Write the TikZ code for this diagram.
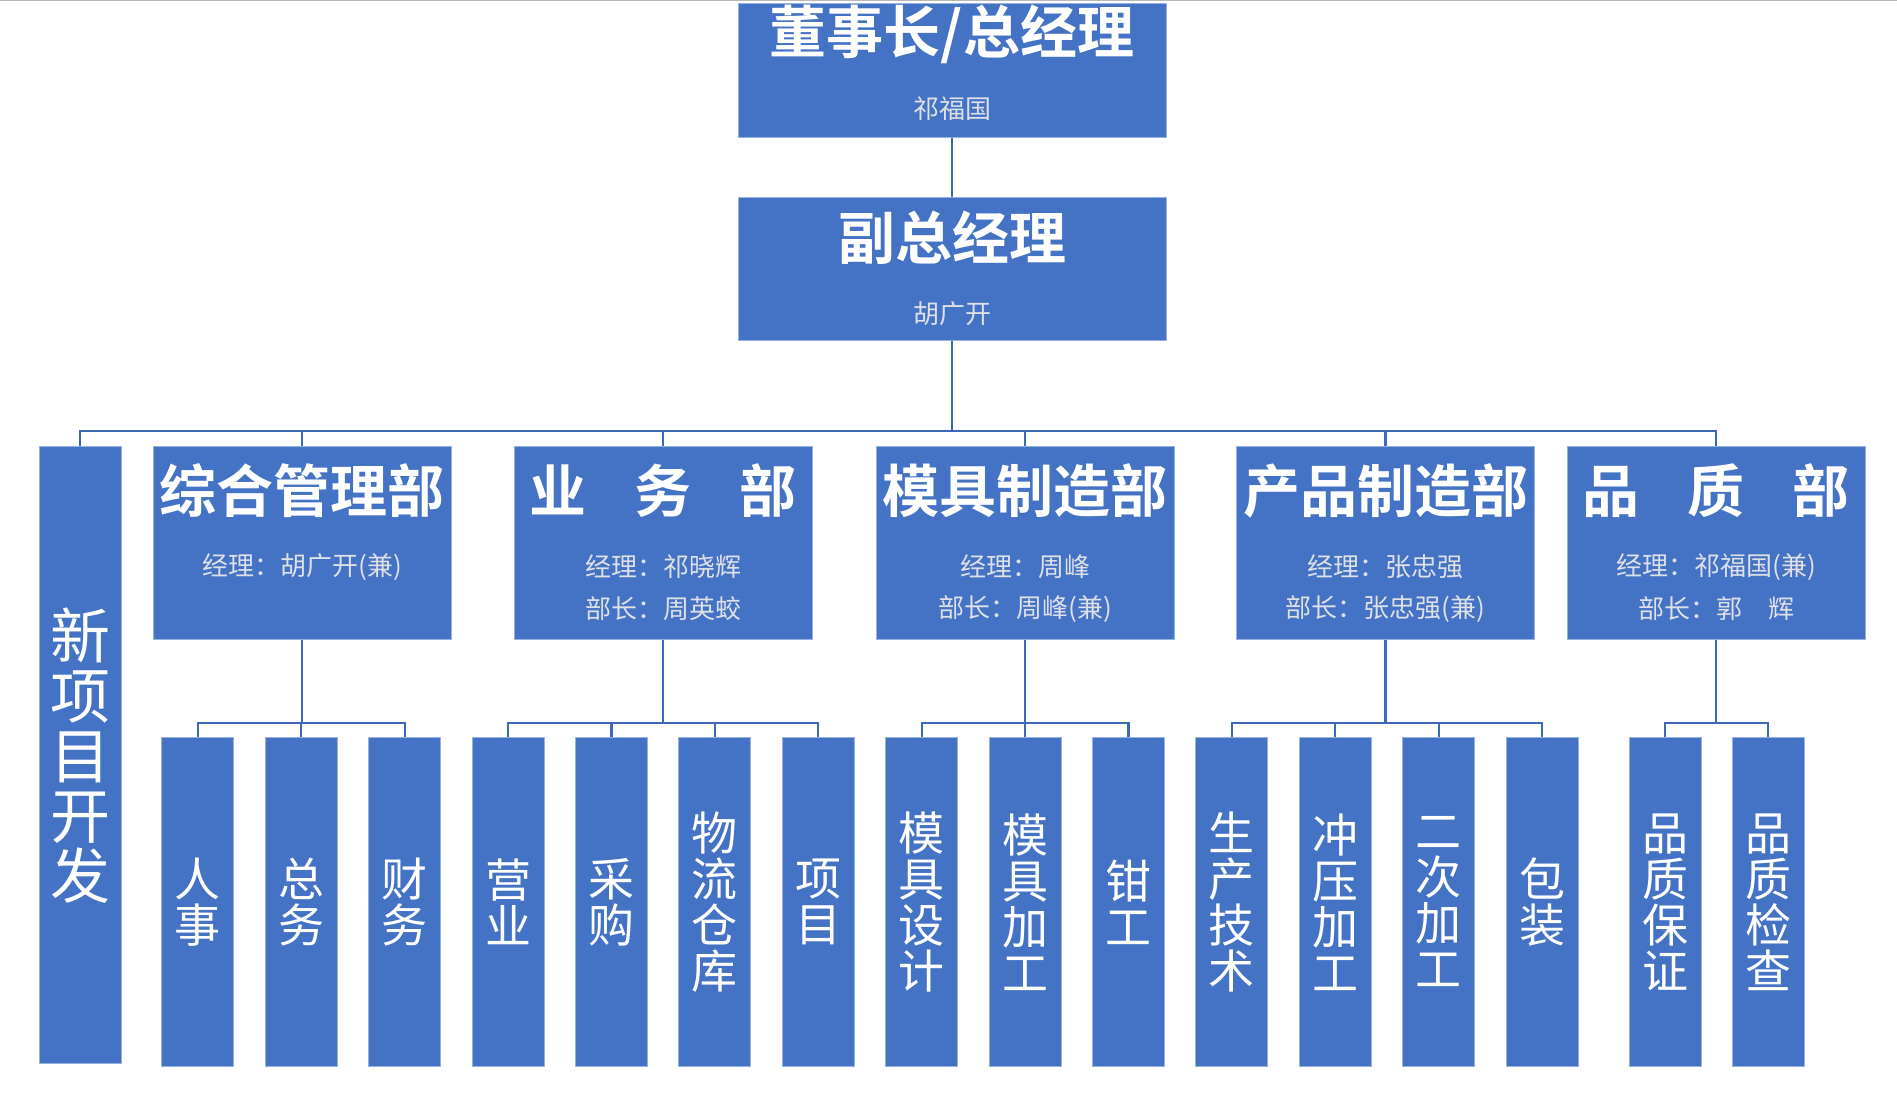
\documentclass[tikz,border=0pt]{standalone}
\usepackage{fontspec}
\newfontfamily\cjk{Noto Sans CJK SC}[BoldFont={Noto Sans CJK SC Bold}]
\definecolor{boxblue}{RGB}{68,114,196}
\definecolor{edgeblue}{RGB}{150,178,225}
\definecolor{lineblue}{RGB}{62,104,184}
\definecolor{subgray}{RGB}{222,224,232}
\tikzset{
  box/.style={rectangle, fill=boxblue, draw=edgeblue, line width=0.5pt, inner sep=0pt},
  depbox/.style={box, minimum width=149pt, minimum height=96.5pt},
  kidbox/.style={box, minimum width=36pt, minimum height=164.5pt},
  ttl/.style={font=\cjk\bfseries\fontsize{28.5}{30}\selectfont, text=white, inner sep=0pt},
  sub/.style={font=\cjk\fontsize{13}{15}\selectfont, text=subgray, inner sep=0pt},
  vert/.style={font=\cjk\fontsize{23}{23}\selectfont, text=white, align=center, inner sep=0pt},
  link/.style={draw=lineblue, line width=1.1pt},
}
\begin{document}
\begin{tikzpicture}[x=0.5pt, y=-0.5pt]
\useasboundingbox (0,0) rectangle (1897,1099);
\fill[white] (0,0) rectangle (1897,1099);
\draw[black!28, line width=1pt] (0,0) -- (1897,0);

% top level
\node[box, minimum width=214pt, minimum height=67pt] (top) at (952,70) {};
\node[ttl] (topt) at (952,34) {董事长/总经理};
\node[sub] (tops) at (952,109) {祁福国};
\node[box, minimum width=214pt, minimum height=71.5pt] (vp) at (952,268.5) {};
\node[ttl] (vpt) at (952,238) {副总经理};
\node[sub] (vps) at (952,314) {胡广开};
\draw[link] (top) -- (vp);

% bus
\coordinate (bus) at (952,431);
\draw[link] (vp) -- (bus);

% new project
\node[box, minimum width=41pt, minimum height=308.5pt] (np) at (80,754.5) {};
\node[vert, font=\cjk\fontsize{30}{30}\selectfont] at (80,756) {新\\项\\目\\开\\发};

% departments
\node[depbox] (d1) at (302,542.5) {};
\node[ttl] at (302,491) {综合管理部};
\node[sub] at (302,567) {经理：胡广开(兼)};

\node[depbox] (d2) at (663,542.5) {};
\node[ttl] at (663,491) {业\hspace{24pt}务\hspace{24pt}部};
\node[sub] at (663,567) {经理：祁晓辉};
\node[sub] at (663,609) {部长：周英蛟};

\node[depbox] (d3) at (1025,542.5) {};
\node[ttl] at (1025,491) {模具制造部};
\node[sub] at (1025,567) {经理：周峰};
\node[sub] at (1025,609) {部长：周峰(兼)};

\node[depbox] (d4) at (1385.5,542.5) {};
\node[ttl] at (1385.5,491) {产品制造部};
\node[sub] at (1385.5,567) {经理：张忠强};
\node[sub] at (1385.5,609) {部长：张忠强(兼)};

\node[depbox] (d5) at (1716,542.5) {};
\node[ttl] at (1716,491) {品\hspace{24pt}质\hspace{24pt}部};
\node[sub] at (1716,567) {经理：祁福国(兼)};
\node[sub] at (1716,609) {部长：郭　辉};

\foreach \n in {np,d1,d2,d3,d4,d5} \draw[link] (\n.north) |- (bus);

% children
\foreach \n/\x/\t in {
  c1/197.8/{人\\事}, c2/301.2/{总\\务}, c3/404.6/{财\\务},
  c4/508/{营\\业}, c5/611.4/{采\\购}, c6/714.8/{物\\流\\仓\\库}, c7/818.2/{项\\目},
  c8/921.6/{模\\具\\设\\计}, c9/1025/{模\\具\\加\\工}, c10/1128.4/{钳\\工},
  c11/1231.8/{生\\产\\技\\术}, c12/1335.2/{冲\\压\\加\\工}, c13/1438.6/{二\\次\\加\\工}, c14/1542/{包\\装},
  c15/1665/{品\\质\\保\\证}, c16/1768/{品\\质\\检\\查}}
{
  \node[kidbox] (\n) at (\x,901.5) {};
  \node[vert] at (\x,902) {\t};
}

\coordinate (b1) at (302,723);
\coordinate (b2) at (663,723);
\coordinate (b3) at (1025,723);
\coordinate (b4) at (1385.5,723);
\coordinate (b5) at (1716,723);
\foreach \d/\b in {d1/b1,d2/b2,d3/b3,d4/b4,d5/b5} \draw[link] (\d.south) -- (\b);
\foreach \c/\b in {c1/b1,c2/b1,c3/b1,c4/b2,c5/b2,c6/b2,c7/b2,c8/b3,c9/b3,c10/b3,
  c11/b4,c12/b4,c13/b4,c14/b4,c15/b5,c16/b5} \draw[link] (\c.north) |- (\b);
\end{tikzpicture}
\end{document}
